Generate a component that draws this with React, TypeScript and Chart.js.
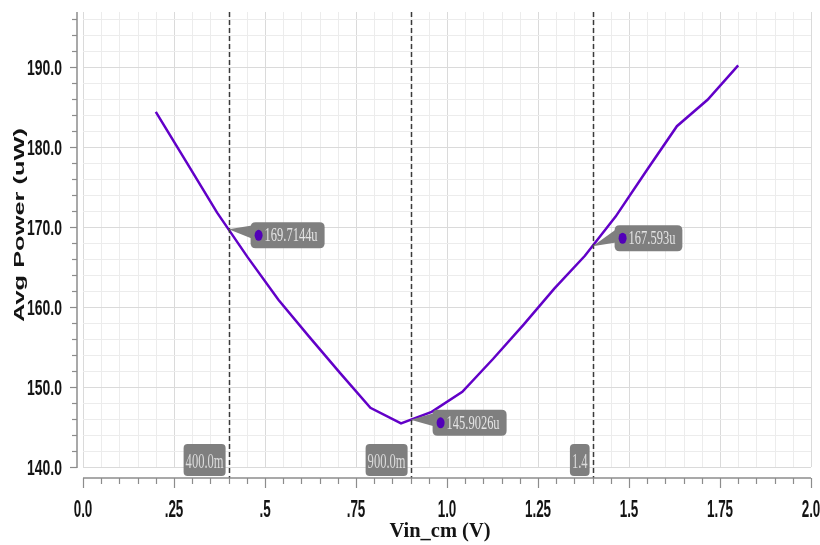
import React, { useEffect, useRef } from "react";
import { Chart, registerables } from "chart.js";

Chart.register(...registerables);

// ---- data ----
const vinCm = [0.2, 0.2842, 0.3684, 0.4526, 0.5368, 0.6211, 0.7053, 0.7895, 0.8737, 0.9579, 1.0421, 1.1263, 1.2105, 1.2947, 1.3789, 1.4632, 1.5474, 1.6316, 1.7158, 1.8];
const avgPower = [184.4, 178.1, 171.8, 166.2, 160.9, 156.3, 151.8, 147.4, 145.45, 146.9, 149.4, 153.5, 157.8, 162.3, 166.4, 171.3, 177.0, 182.6, 185.9, 190.2];

const xTickValues = [0, 0.25, 0.5, 0.75, 1.0, 1.25, 1.5, 1.75, 2.0];
const xTickLabels = ["0.0", ".25", ".5", ".75", "1.0", "1.25", "1.5", "1.75", "2.0"];
const yTickValues = [140, 150, 160, 170, 180, 190];
const yTickLabels = ["140.0", "150.0", "160.0", "170.0", "180.0", "190.0"];

const markerX = [0.4, 0.9, 1.4];
const markerY = [169.7144, 145.9026, 167.593];
const markerXLabels = ["400.0m", "900.0m", "1.4"];
const markerYLabels = ["169.7144u", "145.9026u", "167.593u"];

const xTitle = "Vin_cm (V)";
const yTitle = "Avg Power (uW)";

// ---- layout / style constants ----
const calloutDy = [6, 3, -8];
const SANS = "'Liberation Sans', Arial, Helvetica, sans-serif";
const SERIF = "'Liberation Serif', 'Times New Roman', serif";
const LINE_COLOR = "#6200c8";
const DOT_COLOR = "#5200b8";
const BOX_COLOR = "#7f7f7f";

function roundRect(ctx: CanvasRenderingContext2D, x: number, y: number, w: number, h: number, r: number) {
  ctx.beginPath();
  ctx.moveTo(x + r, y);
  ctx.lineTo(x + w - r, y);
  ctx.quadraticCurveTo(x + w, y, x + w, y + r);
  ctx.lineTo(x + w, y + h - r);
  ctx.quadraticCurveTo(x + w, y + h, x + w - r, y + h);
  ctx.lineTo(x + r, y + h);
  ctx.quadraticCurveTo(x, y + h, x, y + h - r);
  ctx.lineTo(x, y + r);
  ctx.quadraticCurveTo(x, y, x + r, y);
  ctx.closePath();
}

function scaleFor(ctx: CanvasRenderingContext2D, font: string, sample: string, target: number) {
  ctx.save();
  ctx.font = font;
  const w = ctx.measureText(sample).width;
  ctx.restore();
  return w > 0 ? target / w : 1;
}

function drawText(
  ctx: CanvasRenderingContext2D,
  text: string,
  x: number,
  y: number,
  font: string,
  sx: number,
  align: CanvasTextAlign,
  color: string,
  rotate = 0
) {
  ctx.save();
  ctx.font = font;
  ctx.fillStyle = color;
  ctx.textAlign = align;
  ctx.textBaseline = "alphabetic";
  ctx.translate(x, y);
  if (rotate) ctx.rotate(rotate);
  ctx.scale(sx, 1);
  ctx.fillText(text, 0, 0);
  ctx.restore();
}

const decorPlugin = {
  id: "decor",
  beforeDatasetsDraw(chart: any) {
    const { ctx, chartArea } = chart;
    const xs = chart.scales.x;
    const ys = chart.scales.y;
    const left = xs.getPixelForValue(0);
    const right = xs.getPixelForValue(2);
    const top = chartArea.top;
    const bottom = ys.getPixelForValue(140);
    ctx.save();
    ctx.lineWidth = 1;
    for (let i = 0; i <= 40; i++) {
      const px = Math.round(xs.getPixelForValue(i * 0.05)) + 0.5;
      ctx.strokeStyle = i % 5 === 0 ? "#dadada" : "#ececec";
      ctx.beginPath();
      ctx.moveTo(px, top);
      ctx.lineTo(px, bottom);
      ctx.stroke();
    }
    for (let v = 140; v <= 196; v += 2) {
      const py = Math.round(ys.getPixelForValue(v)) + 0.5;
      ctx.strokeStyle = v % 10 === 0 ? "#dadada" : "#ececec";
      ctx.beginPath();
      ctx.moveTo(left, py);
      ctx.lineTo(right, py);
      ctx.stroke();
    }
    ctx.restore();
  },
  afterDatasetsDraw(chart: any) {
    const { ctx, chartArea } = chart;
    const xs = chart.scales.x;
    const ys = chart.scales.y;
    const axisY = chartArea.bottom;
    const axisX = chartArea.left;
    const top = chartArea.top;
    const x0 = xs.getPixelForValue(0);
    const x2 = xs.getPixelForValue(2);
    const y140 = ys.getPixelForValue(140);

    ctx.save();
    // dashed marker lines
    ctx.strokeStyle = "#3a3a3a";
    ctx.lineWidth = 1.5;
    ctx.setLineDash([5, 3]);
    markerX.forEach((mx) => {
      const px = Math.round(xs.getPixelForValue(mx)) + 0.5;
      ctx.beginPath();
      ctx.moveTo(px, top);
      ctx.lineTo(px, axisY);
      ctx.stroke();
    });
    ctx.setLineDash([]);

    // axis lines
    ctx.strokeStyle = "#8c8c8c";
    ctx.lineWidth = 1.5;
    ctx.beginPath();
    ctx.moveTo(axisX, top);
    ctx.lineTo(axisX, y140 + 1);
    ctx.stroke();
    ctx.beginPath();
    ctx.moveTo(x0, axisY);
    ctx.lineTo(x2, axisY);
    ctx.stroke();

    // tick marks
    ctx.lineWidth = 1.2;
    for (let i = 0; i <= 40; i++) {
      const px = Math.round(xs.getPixelForValue(i * 0.05)) + 0.5;
      const len = i % 5 === 0 ? 10 : 6;
      ctx.beginPath();
      ctx.moveTo(px, axisY);
      ctx.lineTo(px, axisY + len);
      ctx.stroke();
    }
    for (let v = 140; v <= 196; v += 2) {
      const py = Math.round(ys.getPixelForValue(v)) + 0.5;
      const len = v % 10 === 0 ? 7 : 5;
      ctx.beginPath();
      ctx.moveTo(axisX, py);
      ctx.lineTo(axisX - len, py);
      ctx.stroke();
    }
    ctx.restore();

    // tick labels
    const yFont = `bold 22px ${SANS}`;
    const ySx = scaleFor(ctx, yFont, "190.0", 35);
    yTickValues.forEach((v, i) => {
      const py = ys.getPixelForValue(v);
      drawText(ctx, yTickLabels[i], 62, py + 8, yFont, ySx, "right", "#141414");
    });
    const xFont = `bold 24px ${SANS}`;
    const xSx = scaleFor(ctx, xFont, "0.0", 18.7);
    xTickValues.forEach((v, i) => {
      const px = xs.getPixelForValue(v);
      drawText(ctx, xTickLabels[i], px, 517, xFont, xSx, "center", "#141414");
    });

    // axis titles
    const xtFont = `bold 22px ${SERIF}`;
    const xtSx = scaleFor(ctx, xtFont, xTitle, 101);
    drawText(ctx, xTitle, 440, 537, xtFont, xtSx, "center", "#141414");
    const ytFont = `bold 15.5px ${SANS}`;
    const ytSx = scaleFor(ctx, ytFont, yTitle, 194);
    drawText(ctx, yTitle, 24, 225, ytFont, ytSx, "center", "#141414", -Math.PI / 2);

    // x-axis marker callouts
    const xcFont = `21px ${SERIF}`;
    const xcSx = scaleFor(ctx, xcFont, "400.0m", 38);
    markerX.forEach((mx, i) => {
      const px = xs.getPixelForValue(mx);
      ctx.save();
      ctx.font = xcFont;
      const tw = ctx.measureText(markerXLabels[i]).width * xcSx;
      ctx.restore();
      const bw = tw + 4;
      const bh = 32;
      const bx = px - 3 - bw;
      const by = axisY - 2 - bh;
      ctx.save();
      ctx.fillStyle = BOX_COLOR;
      roundRect(ctx, bx, by, bw, bh, 4);
      ctx.fill();
      ctx.restore();
      drawText(ctx, markerXLabels[i], bx + bw / 2, by + 24, xcFont, xcSx, "center", "#dcdcdc");
    });

    // value callouts
    const vcFont = `18px ${SERIF}`;
    const vcSx = scaleFor(ctx, vcFont, "169.7144u", 53);
    markerX.forEach((mx, i) => {
      const px = xs.getPixelForValue(mx);
      const py = ys.getPixelForValue(markerY[i]);
      ctx.save();
      ctx.font = vcFont;
      const tw = ctx.measureText(markerYLabels[i]).width * vcSx;
      ctx.restore();
      const bx = px + 22;
      const bw = 14 + tw + 7;
      const bh = 26;
      const cy = py + calloutDy[i];
      const by = cy - bh / 2;
      ctx.save();
      ctx.fillStyle = BOX_COLOR;
      ctx.beginPath();
      ctx.moveTo(px, py);
      ctx.lineTo(bx + 3, cy - 10);
      ctx.lineTo(bx + 3, cy + 4);
      ctx.closePath();
      ctx.fill();
      roundRect(ctx, bx, by, bw, bh, 5);
      ctx.fill();
      ctx.fillStyle = DOT_COLOR;
      ctx.beginPath();
      ctx.ellipse(bx + 8, cy, 4, 5.5, 0, 0, Math.PI * 2);
      ctx.fill();
      ctx.restore();
      drawText(ctx, markerYLabels[i], bx + 14, cy + 6, vcFont, vcSx, "left", "#e4e4e4");
    });
  },
};

export default function App() {
  const canvasRef = useRef<HTMLCanvasElement | null>(null);

  useEffect(() => {
    const canvas = canvasRef.current;
    if (!canvas) return;
    const chart = new Chart(canvas, {
      type: "line",
      data: {
        datasets: [
          {
            label: "Avg Power",
            data: vinCm.map((x, i) => ({ x, y: avgPower[i] })),
            borderColor: LINE_COLOR,
            borderWidth: 2.5,
            pointRadius: 0,
            fill: false,
            tension: 0,
          },
        ],
      },
      options: {
        responsive: false,
        animation: false,
        devicePixelRatio: 1,
        layout: { padding: { top: 12, right: 9, left: 0, bottom: 0 } },
        plugins: {
          legend: { display: false },
          tooltip: { enabled: false },
          title: { display: false },
        },
        scales: {
          x: {
            type: "linear",
            min: -0.0165,
            max: 2.0,
            grid: { display: false },
            border: { display: false },
            ticks: { display: false },
            afterFit: (s: any) => {
              s.height = 67;
            },
          },
          y: {
            type: "linear",
            min: 138.625,
            max: 196.875,
            grid: { display: false },
            border: { display: false },
            ticks: { display: false },
            afterFit: (s: any) => {
              s.width = 77;
            },
          },
        },
      },
      plugins: [decorPlugin],
    } as any);
    return () => chart.destroy();
  }, []);

  return (
    <div style={{ position: "fixed", left: 0, top: 0, width: 820, height: 545, background: "#fff" }}>
      <canvas ref={canvasRef} width={820} height={545} style={{ display: "block" }} />
    </div>
  );
}
